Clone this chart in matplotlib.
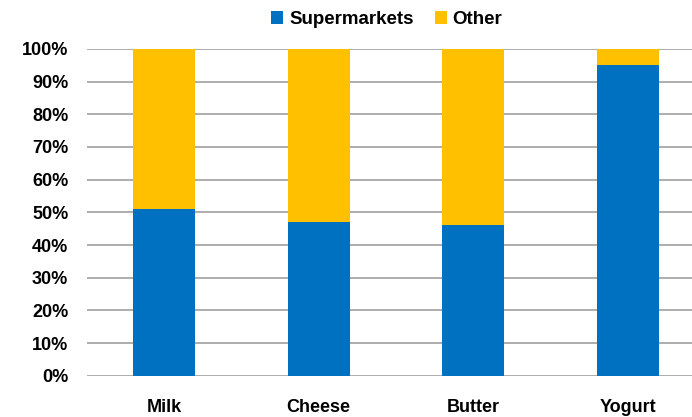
import numpy as np
import matplotlib.pyplot as plt
from matplotlib.ticker import PercentFormatter

## chart data
categories = ['Milk', 'Cheese', 'Butter', 'Yogurt']
supermarkets = [51, 47, 46, 95]
other = [100 - v for v in supermarkets]

blue = '#0070C0'
gold = '#FFC000'

plt.rcParams['font.family'] = ['Liberation Sans', 'DejaVu Sans']
plt.rcParams['font.weight'] = 'bold'

fig = plt.figure(figsize=(6.92, 4.17), dpi=100)
## axes box: left edge at the start of the gridlines, right side runs off the picture
ax = fig.add_axes([87/692, 41.2/417, 605/692, 327/417])

x = np.arange(len(categories))
ax.bar(x, supermarkets, width=0.40, color=blue, label='Supermarkets', zorder=3)
ax.bar(x, other, width=0.40, bottom=supermarkets, color=gold, label='Other', zorder=3)

ax.set_xlim(-0.5, 3.416)
ax.set_ylim(0, 100)
ax.set_yticks(np.arange(0, 101, 10))
ax.yaxis.set_major_formatter(PercentFormatter(decimals=0))
ax.set_xticks(x)
ax.set_xticklabels(categories)
ax.tick_params(axis='both', length=0, labelsize=13)
ax.tick_params(axis='x', pad=17)
ax.tick_params(axis='y', pad=13.5)
ax.grid(axis='y', color='#A0A0A0', linewidth=1.2, zorder=0)
for s in ax.spines.values():
    s.set_visible(False)

handles, labels = ax.get_legend_handles_labels()
fig.legend(handles, labels, loc='center', bbox_to_anchor=(0.559, 0.953), ncol=2,
           frameon=False, fontsize=13.5, handlelength=0.64, handleheight=0.64,
           handletextpad=0.32, columnspacing=1.1, borderaxespad=0)

plt.savefig('out.png', dpi=100)
plt.close()
